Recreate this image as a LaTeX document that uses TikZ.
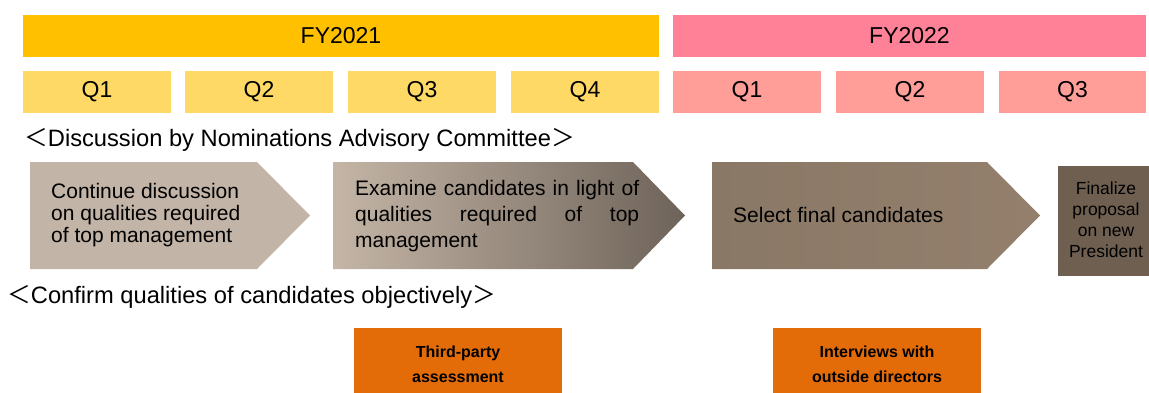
\documentclass[tikz,border=0pt]{standalone}
\usepackage{fontspec}
\setmainfont{Liberation Sans}
\newfontfamily\cjkfont{Noto Sans CJK JP}
\usepackage{tikz}
\definecolor{fyone}{HTML}{FFC000}
\definecolor{fytwo}{HTML}{FF8198}
\definecolor{qone}{HTML}{FFD966}
\definecolor{qtwo}{HTML}{FF9D99}
\definecolor{stepa}{HTML}{C2B4A6}
\definecolor{stepbl}{HTML}{C4B5A6}
\definecolor{stepbm}{HTML}{A99B8D}
\definecolor{stepbr}{HTML}{6E6359}
\definecolor{stepcl}{HTML}{8A7866}
\definecolor{stepcr}{HTML}{937F6C}
\definecolor{stepd}{HTML}{6E5F51}
\definecolor{orng}{HTML}{E36C09}
\newcommand{\fwlt}{{\cjkfont ＜}}
\newcommand{\fwgt}{{\cjkfont ＞}}

\begin{document}
\begin{tikzpicture}[x=1pt,y=-1pt,
	hdr/.style={inner sep=0pt,font=\fontsize{23}{25}\selectfont},
	fybox/.style={hdr,minimum height=42pt},
	qbox/.style={hdr,minimum width=148pt,minimum height=42pt},
	lbl/.style={inner sep=0pt,anchor=west,font=\fontsize{23.7}{25}\selectfont},
	steptext/.style={inner sep=0pt,anchor=west,font=\fontsize{21}{22}\selectfont},
	checkbox/.style={fill=orng,inner sep=0pt,minimum width=208pt,minimum height=72pt,align=center,font=\fontsize{16}{25}\selectfont\bfseries}]
	\useasboundingbox (0,0) rectangle (1149,392);
	\clip (0,0) rectangle (1149,392);
	% fiscal years
	\node[fybox,fill=fyone,minimum width=636pt] (fy21) at (341,36) {FY2021};
	\node[fybox,fill=fytwo,minimum width=473pt] (fy22) at (909.5,36) {FY2022};
	% quarters
	\node[qbox,fill=qone] (a1) at (97,92) {Q1};
	\node[qbox,fill=qone] (a2) at (259,92) {Q2};
	\node[qbox,fill=qone] (a3) at (422,92) {Q3};
	\node[qbox,fill=qone] (a4) at (585,92) {Q4};
	\node[qbox,fill=qtwo] (b1) at (747,92) {Q1};
	\node[qbox,fill=qtwo] (b2) at (910,92) {Q2};
	\node[qbox,fill=qtwo,minimum width=147pt] (b3) at (1072.5,92) {Q3};
	% committee
	\node[lbl] (disc) at (24,140) {\fwlt Discussion by Nominations Advisory Committee\fwgt};
	\fill[stepa] (30,162) -- (257,162) -- (310,215.5) -- (257,269) -- (30,269) -- cycle;
	\shade[left color=stepbl,middle color=stepbm,right color=stepbr] (333,162) -- (633,162) -- (685,215.5) -- (633,269) -- (333,269) -- cycle;
	\shade[left color=stepcl,right color=stepcr] (712,162) -- (987,162) -- (1040,215.5) -- (987,269) -- (712,269) -- cycle;
	\fill[stepd] (1058,166) rectangle (1154,276);
	\node[steptext,align=left] (s1) at (51,215) {Continue discussion\\on qualities required\\of top management};
	\node[steptext,align=justify,text width=284pt,font=\fontsize{21}{26}\selectfont] (s2) at (355,216) {Examine candidates in light of\linebreak qualities required of top\linebreak management};
	\node[steptext] (s3) at (733,215) {Select final candidates};
	\node[inner sep=0pt,align=center,font=\fontsize{17.5}{21}\selectfont] (s4) at (1106,220) {Finalize\\proposal\\on new\\President};
	% objective checks
	\node[lbl] (conf) at (7,297) {\fwlt Confirm qualities of candidates objectively\fwgt};
	\node[checkbox] (tp) at (458,364) {Third-party\\assessment};
	\node[checkbox] (iv) at (877,364) {Interviews with\\outside directors};
\end{tikzpicture}
\end{document}
